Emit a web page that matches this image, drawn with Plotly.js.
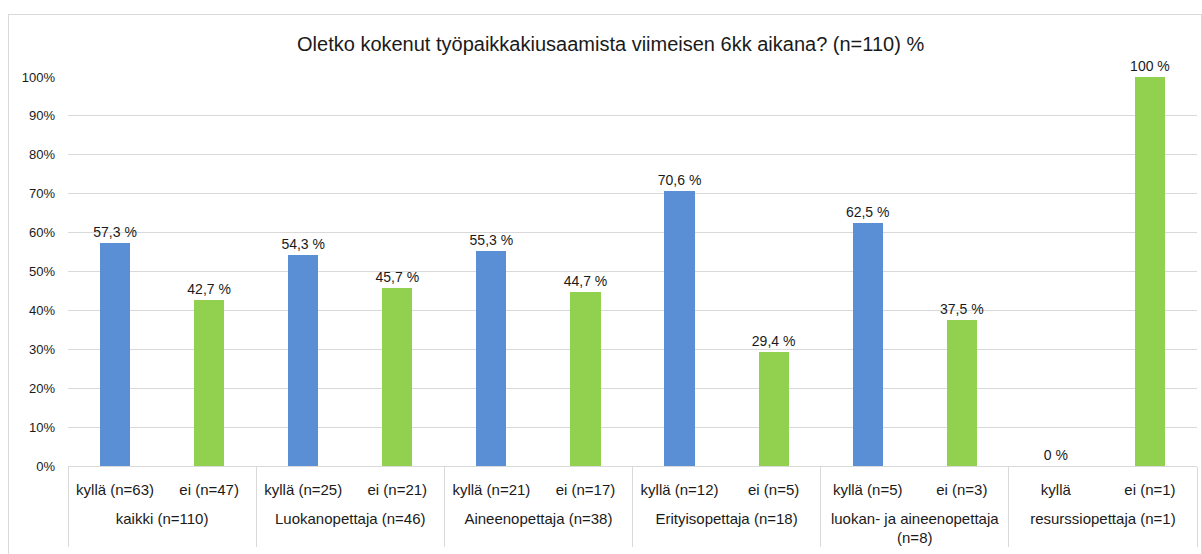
<!DOCTYPE html>
<html><head><meta charset="utf-8">
<script src="https://cdn.plot.ly/plotly-3.0.1.min.js"></script>
<style>
html,body{margin:0;padding:0;background:#fff;}
#wrap{position:relative;width:1202px;height:554px;overflow:hidden;}
#chart{position:absolute;left:0;top:0;width:1202px;height:554px;}
#frame{position:absolute;left:8px;top:14px;width:1192px;height:600px;border:1px solid #d9d9d9;pointer-events:none;}
</style>
</head><body>
<div id="wrap"><div id="chart"></div><div id="frame"></div></div>
<script>
const groups = [
  'kaikki (n=110)', 'kaikki (n=110)',
  'Luokanopettaja (n=46)', 'Luokanopettaja (n=46)',
  'Aineenopettaja (n=38)', 'Aineenopettaja (n=38)',
  'Erityisopettaja (n=18)', 'Erityisopettaja (n=18)',
  'luokan- ja aineenopettaja<br>(n=8)', 'luokan- ja aineenopettaja<br>(n=8)',
  'resurssiopettaja (n=1)', 'resurssiopettaja (n=1)'
];
const answerLabels = [
  'kyllä (n=63)', 'ei (n=47)',
  'kyllä (n=25)', 'ei (n=21)',
  'kyllä (n=21)', 'ei (n=17)',
  'kyllä (n=12)', 'ei (n=5)',
  'kyllä (n=5)', 'ei (n=3)',
  'kyllä', 'ei (n=1)'
];
const answerKinds = ['kyllä','ei','kyllä','ei','kyllä','ei','kyllä','ei','kyllä','ei','kyllä','ei'];
const values = [57.3, 42.7, 54.3, 45.7, 55.3, 44.7, 70.6, 29.4, 62.5, 37.5, 0, 100];
const kindColors = {'kyllä': '#5a8fd6', 'ei': '#92d050'};
const titleText = 'Oletko kokenut työpaikkakiusaamista viimeisen 6kk aikana? (n=110) %';

const textColor = '#1a1a1a';
const gridColor = '#d9d9d9';
const font = 'Liberation Sans, Arial, sans-serif';

// Finnish number format: decimal comma, whole numbers without decimals
const fmt = v => (Number.isInteger(v) ? String(v) : v.toFixed(1).replace('.', ',')) + ' %';

// an empty second line under each answer label gives the group row more room
const answerTicks = answerLabels.map(s => s + '<br>\u00a0');

const trace = {
  type: 'bar',
  x: [groups, answerTicks],
  y: values,
  width: 0.32,
  marker: {color: answerKinds.map(k => kindColors[k])},
  text: values.map(fmt),
  texttemplate: '%{text}',
  textposition: 'outside',
  constraintext: 'none',
  textfont: {family: font, size: 14, color: textColor},
  cliponaxis: false,
  hoverinfo: 'x+y'
};

const layout = {
  width: 1202, height: 554,
  margin: {l: 68, r: 5, t: 77, b: 88},
  paper_bgcolor: 'rgba(0,0,0,0)',
  plot_bgcolor: 'rgba(0,0,0,0)',
  showlegend: false,
  font: {family: font, color: textColor},
  title: {
    text: titleText,
    font: {family: font, size: 20, color: textColor},
    x: 0.508, xanchor: 'center', y: 1 - 44/554, yanchor: 'middle', yref: 'container'
  },
  xaxis: {
    type: 'multicategory',
    showgrid: false,
    showline: true, linecolor: gridColor, linewidth: 1,
    showdividers: true, dividercolor: gridColor, dividerwidth: 1,
    ticks: '',
    ticklabelstandoff: 10,
    tickfont: {family: font, size: 15, color: textColor},
    fixedrange: true
  },
  yaxis: {
    range: [0, 100],
    dtick: 10,
    ticksuffix: '%',
    showgrid: true, gridcolor: gridColor, gridwidth: 1,
    zeroline: false,
    showline: false,
    ticks: '',
    ticklabelstandoff: 12,
    tickfont: {family: font, size: 13, color: textColor},
    fixedrange: true
  },
  bargap: 0
};

Plotly.newPlot('chart', [trace], layout, {displayModeBar: false, staticPlot: true});
</script>
</body></html>
